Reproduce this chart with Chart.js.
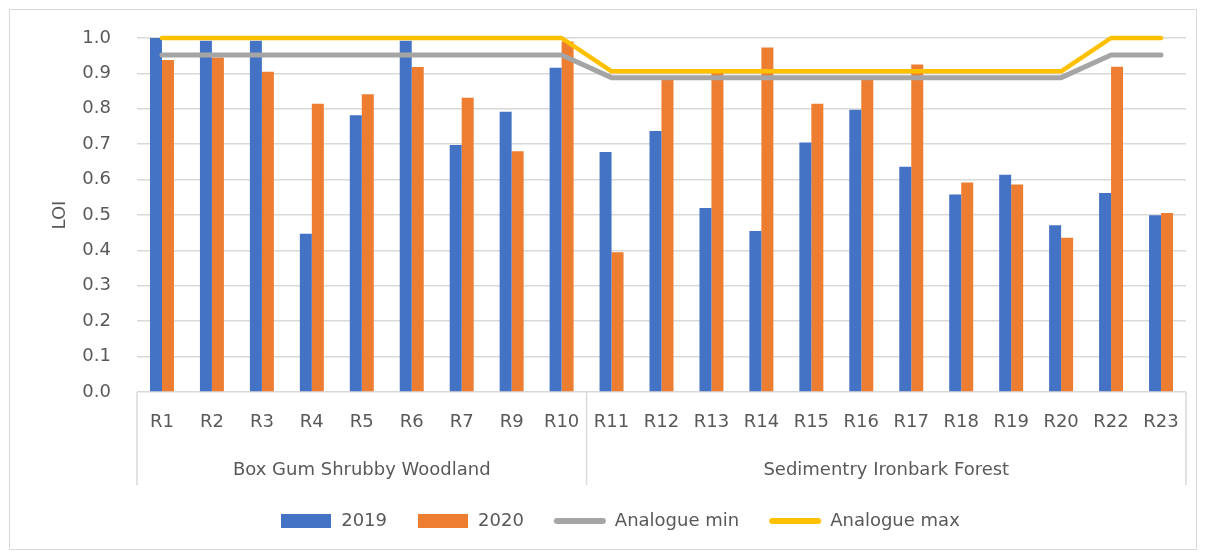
<!DOCTYPE html>
<html>
<head>
<meta charset="utf-8">
<script src="https://cdn.jsdelivr.net/npm/chart.js@4"></script>
<style>
    html, body { margin: 0; padding: 0; background: #fff; }
    #wrap { width: 1206px; height: 555px; position: relative; }
</style>
</head>
<body>
<div id="wrap"><canvas id="loiChart"></canvas></div>
<script>
// LOI per site, two surveys + analogue reference band
const sites = ['R1', 'R2', 'R3', 'R4', 'R5', 'R6', 'R7', 'R9', 'R10',
    'R11', 'R12', 'R13', 'R14', 'R15', 'R16', 'R17', 'R18', 'R19', 'R20', 'R22', 'R23'];
const groupNames = ['Box Gum Shrubby Woodland', 'Sedimentry Ironbark Forest'];
const groupSizes = [9, 12];

const loi2019 = [1.0, 0.992, 0.992, 0.447, 0.782, 0.992, 0.698, 0.792, 0.916,
    0.678, 0.737, 0.52, 0.455, 0.705, 0.797, 0.636, 0.558, 0.614, 0.471, 0.562, 0.499];
const loi2020 = [0.938, 0.945, 0.905, 0.814, 0.841, 0.918, 0.831, 0.68, 0.99,
    0.395, 0.885, 0.912, 0.973, 0.814, 0.885, 0.925, 0.592, 0.586, 0.436, 0.919, 0.506];
const analogueMin = [0.952, 0.952, 0.952, 0.952, 0.952, 0.952, 0.952, 0.952, 0.952,
    0.888, 0.888, 0.888, 0.888, 0.888, 0.888, 0.888, 0.888, 0.888, 0.888, 0.952, 0.952];
const analogueMax = [1.0, 1.0, 1.0, 1.0, 1.0, 1.0, 1.0, 1.0, 1.0,
    0.906, 0.906, 0.906, 0.906, 0.906, 0.906, 0.906, 0.906, 0.906, 0.906, 1.0, 1.0];
const yTicks = [0, 0.1, 0.2, 0.3, 0.4, 0.5, 0.6, 0.7, 0.8, 0.9, 1.0];

const textColor = '#595959';
const gridColor = '#d9d9d9';
const fontFamily = '"DejaVu Sans", sans-serif';

// legend markers as small canvases
function boxMarker(color, w, h) {
    const c = document.createElement('canvas');
    c.width = w; c.height = h;
    const g = c.getContext('2d');
    g.fillStyle = color;
    g.fillRect(0, 0, w, h);
    return c;
}
function lineMarker(color, w, thick) {
    const c = document.createElement('canvas');
    c.width = w; c.height = thick + 2;
    const g = c.getContext('2d');
    g.strokeStyle = color;
    g.lineWidth = thick;
    g.lineCap = 'round';
    g.beginPath();
    g.moveTo(thick / 2 + 1, c.height / 2);
    g.lineTo(w - thick / 2 - 1, c.height / 2);
    g.stroke();
    return c;
}

const frame = {
    id: 'frame',
    beforeDraw(chart) {
        const ctx = chart.ctx;
        ctx.save();
        ctx.fillStyle = '#fff';
        ctx.fillRect(0, 0, chart.width, chart.height);
        ctx.strokeStyle = gridColor;
        ctx.lineWidth = 1;
        ctx.strokeRect(9.5, 9.5, 1187, 540);
        ctx.restore();
    },
    afterDraw(chart) {
        // two-level category axis: separators and group names
        const x = chart.scales.x;
        const ctx = chart.ctx;
        const step = x.getPixelForValue(1) - x.getPixelForValue(0);
        const bottom = x.top + 93;
        ctx.save();
        ctx.strokeStyle = gridColor;
        ctx.lineWidth = 1.5;
        ctx.fillStyle = textColor;
        ctx.font = '18px ' + fontFamily;
        ctx.textAlign = 'center';
        ctx.textBaseline = 'middle';
        let start = 0;
        groupNames.forEach((name, i) => {
            const end = start + groupSizes[i] - 1;
            const l = x.getPixelForValue(start) - step / 2;
            const r = x.getPixelForValue(end) + step / 2;
            ctx.beginPath();
            ctx.moveTo(l, x.top);
            ctx.lineTo(l, bottom);
            if (i === groupNames.length - 1) {
                ctx.moveTo(r, x.top);
                ctx.lineTo(r, bottom);
            }
            ctx.stroke();
            ctx.fillText(name, (l + r) / 2, x.top + 78);
            start = end + 1;
        });
        ctx.restore();
    }
};

const ctx = document.getElementById('loiChart').getContext('2d');
new Chart(ctx, {
    type: 'bar',
    data: {
        labels: sites,
        datasets: [
            {
                label: '2019',
                data: loi2019,
                backgroundColor: '#4472c4',
                categoryPercentage: 0.48,
                barPercentage: 1.0,
                order: 2,
                pointStyle: boxMarker('#4472c4', 50, 14),
            },
            {
                label: '2020',
                data: loi2020,
                backgroundColor: '#ed7d31',
                categoryPercentage: 0.48,
                barPercentage: 1.0,
                order: 2,
                pointStyle: boxMarker('#ed7d31', 50, 14),
            },
            {
                type: 'line',
                label: 'Analogue min',
                data: analogueMin,
                borderColor: '#a5a5a5',
                backgroundColor: '#a5a5a5',
                borderWidth: 5,
                borderCapStyle: 'round',
                borderJoinStyle: 'round',
                pointRadius: 0,
                tension: 0,
                clip: false,
                order: 1,
                pointStyle: lineMarker('#a5a5a5', 54, 6),
            },
            {
                type: 'line',
                label: 'Analogue max',
                data: analogueMax,
                borderColor: '#ffc000',
                backgroundColor: '#ffc000',
                borderWidth: 4.5,
                borderCapStyle: 'round',
                borderJoinStyle: 'round',
                pointRadius: 0,
                tension: 0,
                clip: false,
                order: 0,
                pointStyle: lineMarker('#ffc000', 54, 6),
            },
        ],
    },
    options: {
        responsive: true,
        maintainAspectRatio: false,
        animation: false,
        devicePixelRatio: 1,
        layout: {
            padding: { left: 54, right: 20, top: 38, bottom: 15 },
        },
        plugins: {
            tooltip: { enabled: false },
            legend: {
                position: 'bottom',
                labels: {
                    usePointStyle: true,
                    pointStyleWidth: 52,
                    padding: 30,
                    color: textColor,
                    font: { family: fontFamily, size: 18 },
                    sort: (a, b) => a.datasetIndex - b.datasetIndex,
                },
            },
        },
        scales: {
            x: {
                offset: true,
                grid: { display: false, drawTicks: false },
                border: { display: false },
                ticks: {
                    color: textColor,
                    font: { family: fontFamily, size: 18 },
                    padding: 20,
                    maxRotation: 0,
                    autoSkip: false,
                },
                afterFit: (scale) => { scale.height = 90; },
            },
            y: {
                min: 0,
                max: 1,
                afterBuildTicks: (scale) => {
                    scale.ticks = yTicks.map(v => ({ value: v }));
                },
                grid: { color: gridColor, lineWidth: 1.5, drawTicks: false },
                border: { display: false },
                ticks: {
                    color: textColor,
                    font: { family: fontFamily, size: 18 },
                    padding: 26,
                    callback: (v) => Number(v).toFixed(1),
                },
                title: {
                    display: true,
                    text: 'LOI',
                    color: textColor,
                    font: { family: fontFamily, size: 18 },
                    padding: { top: -4, bottom: 0 },
                },
                afterFit: (scale) => { scale.width = 83; },
            },
        },
    },
    plugins: [frame],
});
</script>
</body>
</html>
